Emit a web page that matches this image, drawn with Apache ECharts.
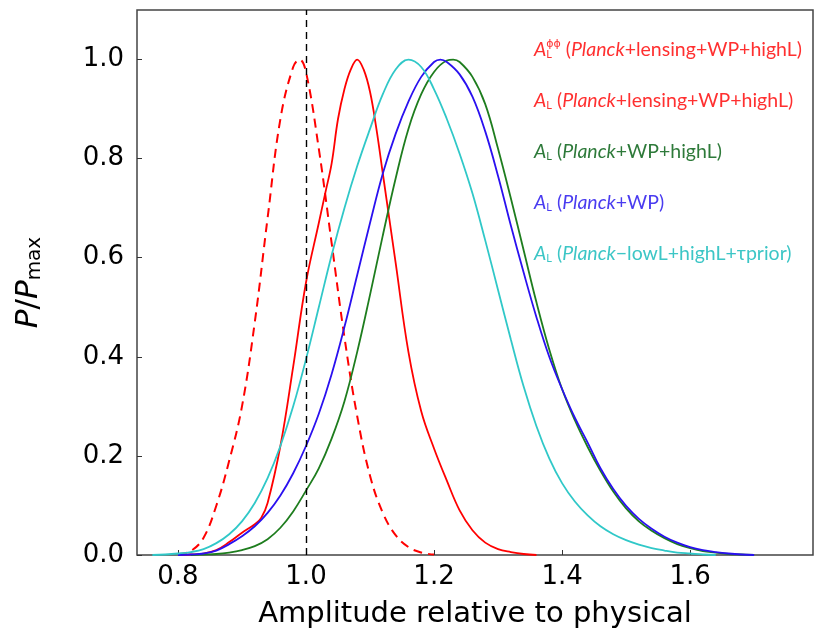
<!DOCTYPE html>
<html>
<head>
<meta charset="utf-8">
<script src="https://cdn.jsdelivr.net/npm/echarts@6/dist/echarts.min.js"></script>
<style>
  html, body { margin: 0; padding: 0; background: #fff; }
  #chart { width: 819px; height: 634px; }
</style>
</head>
<body>
<div id="chart"></div>
<script>
// x values and P/Pmax, one pair of arrays per curve
const lensX = [0.80, 0.82, 0.84, 0.86, 0.88, 0.90, 0.92, 0.94, 0.96, 0.98, 0.99, 1.00, 1.02, 1.04, 1.06, 1.08, 1.10, 1.12, 1.14, 1.16, 1.18, 1.20];
const lensY = [0.002, 0.008, 0.035, 0.10, 0.19, 0.30, 0.47, 0.68, 0.88, 0.985, 1.00, 0.975, 0.82, 0.63, 0.44, 0.28, 0.16, 0.085, 0.04, 0.016, 0.005, 0.001];

const lensAllX = [0.80, 0.82, 0.84, 0.86, 0.88, 0.90, 0.92, 0.93, 0.94, 0.96, 0.98, 1.00, 1.02, 1.03, 1.04, 1.05, 1.06, 1.07, 1.08, 1.09, 1.10, 1.11, 1.12, 1.14, 1.16, 1.18, 1.20, 1.22, 1.24, 1.26, 1.28, 1.30, 1.32, 1.34, 1.36];
const lensAllY = [0, 0.001, 0.003, 0.01, 0.026, 0.045, 0.062, 0.075, 0.105, 0.22, 0.38, 0.55, 0.67, 0.73, 0.79, 0.88, 0.94, 0.98, 1.00, 0.98, 0.935, 0.86, 0.77, 0.59, 0.41, 0.29, 0.215, 0.15, 0.09, 0.05, 0.025, 0.012, 0.006, 0.002, 0];

const highLX = [0.82, 0.84, 0.86, 0.88, 0.90, 0.92, 0.94, 0.96, 0.98, 1.00, 1.02, 1.04, 1.06, 1.08, 1.10, 1.12, 1.14, 1.16, 1.18, 1.20, 1.22, 1.23, 1.24, 1.26, 1.28, 1.30, 1.32, 1.34, 1.36, 1.38, 1.40, 1.42, 1.44, 1.46, 1.48, 1.50, 1.52, 1.54, 1.56, 1.58, 1.60, 1.62, 1.64, 1.66, 1.68, 1.70];
const highLY = [0, 0.001, 0.002, 0.005, 0.01, 0.018, 0.032, 0.055, 0.088, 0.13, 0.175, 0.235, 0.31, 0.41, 0.525, 0.645, 0.76, 0.86, 0.93, 0.975, 0.998, 1.00, 0.995, 0.965, 0.91, 0.82, 0.72, 0.615, 0.51, 0.415, 0.335, 0.272, 0.218, 0.17, 0.128, 0.094, 0.068, 0.049, 0.034, 0.022, 0.014, 0.008, 0.005, 0.002, 0.001, 0];

const wpX = [0.80, 0.82, 0.84, 0.86, 0.88, 0.90, 0.92, 0.94, 0.96, 0.98, 1.00, 1.02, 1.04, 1.06, 1.08, 1.10, 1.12, 1.14, 1.16, 1.18, 1.20, 1.21, 1.22, 1.24, 1.26, 1.28, 1.30, 1.32, 1.34, 1.36, 1.38, 1.40, 1.42, 1.44, 1.46, 1.48, 1.50, 1.52, 1.54, 1.56, 1.58, 1.60, 1.62, 1.64, 1.66, 1.68, 1.70];
const wpY = [0, 0.001, 0.003, 0.009, 0.022, 0.038, 0.058, 0.085, 0.12, 0.165, 0.22, 0.285, 0.365, 0.46, 0.565, 0.67, 0.77, 0.85, 0.915, 0.965, 0.995, 1.00, 0.995, 0.97, 0.925, 0.855, 0.765, 0.665, 0.57, 0.48, 0.40, 0.335, 0.277, 0.227, 0.175, 0.133, 0.099, 0.073, 0.053, 0.037, 0.025, 0.016, 0.01, 0.006, 0.003, 0.001, 0];

const tauX = [0.76, 0.78, 0.80, 0.82, 0.84, 0.86, 0.88, 0.90, 0.92, 0.94, 0.96, 0.98, 1.00, 1.02, 1.04, 1.06, 1.08, 1.10, 1.12, 1.14, 1.16, 1.18, 1.20, 1.22, 1.24, 1.26, 1.28, 1.30, 1.32, 1.34, 1.36, 1.38, 1.40, 1.42, 1.44, 1.46, 1.48, 1.50, 1.52, 1.54, 1.56, 1.58, 1.60, 1.62, 1.64];
const tauY = [0, 0.001, 0.003, 0.006, 0.012, 0.024, 0.042, 0.068, 0.105, 0.155, 0.22, 0.30, 0.395, 0.50, 0.605, 0.70, 0.785, 0.86, 0.93, 0.98, 1.00, 0.985, 0.94, 0.88, 0.81, 0.73, 0.635, 0.535, 0.435, 0.34, 0.26, 0.195, 0.145, 0.108, 0.08, 0.058, 0.042, 0.03, 0.021, 0.014, 0.009, 0.005, 0.003, 0.001, 0];

const xTicks = [0.8, 1.0, 1.2, 1.4, 1.6];
const yTicks = [0.0, 0.2, 0.4, 0.6, 0.8, 1.0];

const names = [
  'A_L^phiphi (Planck+lensing+WP+highL)',
  'A_L (Planck+lensing+WP+highL)',
  'A_L (Planck+WP+highL)',
  'A_L (Planck+WP)',
  'A_L (Planck-lowL+highL+tau prior)'
];
const legendText = {
  [names[0]]: '{a|A}{z|L}{p|ϕϕ}{n| (}{i|Planck}{n|+lensing+WP+highL)}',
  [names[1]]: '{a|A}{s|L}{n| (}{i|Planck}{n|+lensing+WP+highL)}',
  [names[2]]: '{a|A}{s|L}{n| (}{i|Planck}{n|+WP+highL)}',
  [names[3]]: '{a|A}{s|L}{n| (}{i|Planck}{n|+WP)}',
  [names[4]]: '{a|A}{s|L}{n| (}{i|Planck}{n|−lowL+highL+τprior)}'
};
const lineColors = ['#ff0000', '#ff0000', '#1e7d1e', '#2a10f0', '#30c8c8'];
const textColors = ['#ff3030', '#ff3030', '#2e7a3a', '#4a3cf0', '#3cc6c6'];

const pairs = (xs, ys) => xs.map((x, i) => [x, ys[i]]);
const curves = [pairs(lensX, lensY), pairs(lensAllX, lensAllY), pairs(highLX, highLY), pairs(wpX, wpY), pairs(tauX, tauY)];

const chart = echarts.init(document.getElementById('chart'));

const series = curves.map((data, i) => ({
  name: names[i],
  type: 'line',
  data: data,
  smooth: 0.4,
  showSymbol: false,
  lineStyle: {
    color: lineColors[i],
    width: i === 0 ? 2 : 1.8,
    type: i === 0 ? [9, 6] : 'solid'
  },
  itemStyle: { color: lineColors[i] }
}));

// vertical reference line at 1.0
series[0].markLine = {
  silent: true,
  symbol: 'none',
  label: { show: false },
  lineStyle: { color: '#000', type: [7, 5], width: 1.4 },
  data: [{ xAxis: 1.0 }]
};

const option = {
  animation: false,
  backgroundColor: '#fff',
  grid: {
    left: 137, right: 6, top: 10, bottom: 76,
    show: true, borderColor: '#444', borderWidth: 1.5
  },
  legend: {
    orient: 'vertical',
    left: 524, top: 34,
    icon: 'none',
    itemWidth: 0,
    itemGap: 31,
    selectedMode: false,
    data: names.map((n, i) => ({ name: n, textStyle: { color: textColors[i] } })),
    formatter: n => legendText[n],
    textStyle: {
      fontFamily: 'Lato',
      fontSize: 19.5,
      rich: {
        a: { fontSize: 19.5, fontStyle: 'italic', fontFamily: 'Lato' },
        s: { fontSize: 11, fontFamily: 'Lato', padding: [9, 0, 0, 0] },
        z: { fontSize: 11, fontFamily: 'Lato', padding: [9, 0, 0, 0], width: 0, overflow: 'none' },
        p: { fontSize: 11, fontFamily: 'DejaVu Sans', padding: [0, 0, 10, 0] },
        i: { fontSize: 19.5, fontStyle: 'italic', fontFamily: 'Lato' },
        n: { fontSize: 19.5, fontFamily: 'Lato' }
      }
    }
  },
  xAxis: {
    type: 'value',
    min: 0.736,
    max: 1.792,
    name: 'Amplitude relative to physical',
    nameLocation: 'middle',
    nameGap: 45,
    nameTextStyle: { fontFamily: 'DejaVu Sans', fontSize: 29, color: '#000' },
    axisLine: { show: false },
    splitLine: { show: false },
    axisTick: { show: true, inside: true, length: 5, customValues: xTicks, lineStyle: { color: '#333' } },
    axisLabel: {
      customValues: xTicks,
      formatter: v => v.toFixed(1),
      fontFamily: 'DejaVu Sans',
      fontSize: 26,
      color: '#000',
      margin: 9
    }
  },
  yAxis: {
    type: 'value',
    min: 0,
    max: 1.1,
    name: '{i|P}{n|/}{i|P}{s|max}',
    nameLocation: 'middle',
    nameGap: 92,
    nameTextStyle: {
      color: '#000',
      rich: {
        i: { fontFamily: 'DejaVu Sans', fontStyle: 'italic', fontSize: 31 },
        n: { fontFamily: 'DejaVu Sans', fontSize: 31 },
        s: { fontFamily: 'DejaVu Sans', fontSize: 20, padding: [12, 0, 0, 0] }
      }
    },
    axisLine: { show: false },
    splitLine: { show: false },
    axisTick: { show: true, inside: true, length: 5, customValues: yTicks, lineStyle: { color: '#333' } },
    axisLabel: {
      customValues: yTicks,
      formatter: v => v.toFixed(1),
      fontFamily: 'DejaVu Sans',
      fontSize: 26,
      color: '#000',
      margin: 13
    }
  },
  series: series
};

chart.setOption(option);
</script>
</body>
</html>
